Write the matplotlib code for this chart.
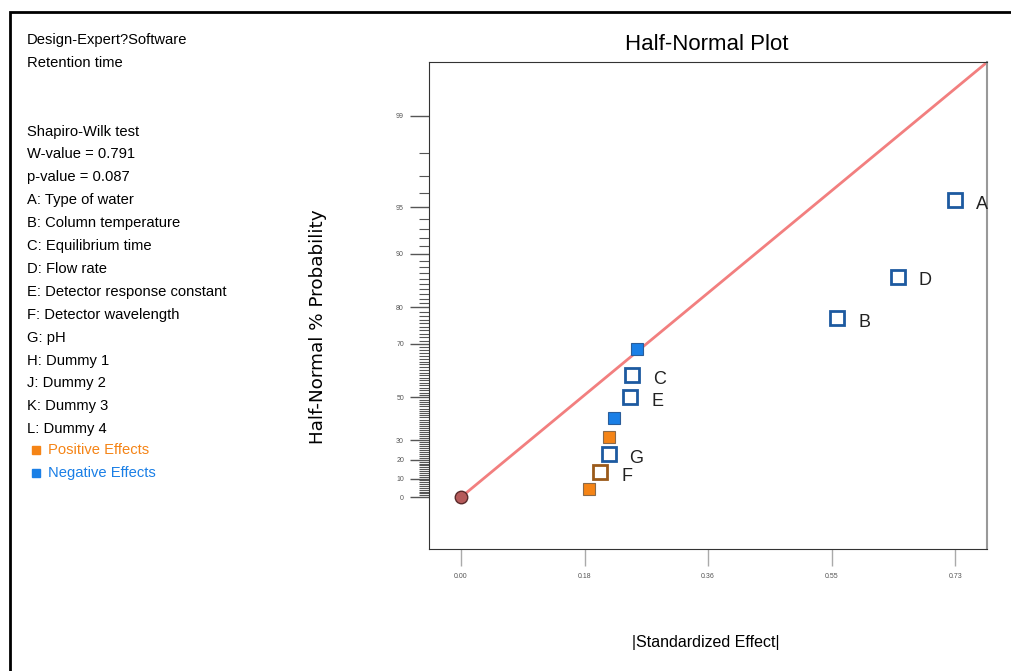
import math
import numpy as np
import matplotlib
matplotlib.use("Agg")
import matplotlib.pyplot as plt
from matplotlib.patches import Rectangle

plt.rcParams['font.family'] = ['Liberation Sans', 'DejaVu Sans']

# Effects
terms = ["A", "D", "B", "H", "C", "E", "J", "K", "G", "F", "L"]
effects = [0.730, 0.646, 0.556, 0.260, 0.253, 0.250, 0.226, 0.219, 0.219, 0.205, 0.189]
probs = [95.5, 86.4, 77.3, 68.2, 59.1, 50.0, 40.9, 31.8, 22.7, 13.6, 4.5]
signs = ["neg", "neg", "neg", "neg", "neg", "neg", "neg", "pos", "neg", "pos", "pos"]
in_model = [True, True, True, False, True, True, False, False, True, True, False]

# reference line through origin
line_x = [0.0, 0.777]
line_p = [0.0, 99.67]

y_major = [0, 10, 20, 30, 50, 70, 80, 90, 95, 99]
x_ticks = [0.0, 0.1825, 0.365, 0.5475, 0.73]
x_ticklabels = ["0.00", "0.18", "0.36", "0.55", "0.73"]

info_lines = ["Design-Expert?Software", "Retention time", "", "",
              "Shapiro-Wilk test", "W-value = 0.791", "p-value = 0.087",
              "A: Type of water", "B: Column temperature", "C: Equilibrium time",
              "D: Flow rate", "E: Detector response constant", "F: Detector wavelength",
              "G: pH", "H: Dummy 1", "J: Dummy 2", "K: Dummy 3", "L: Dummy 4"]

# half-normal probability scale
_z = np.linspace(-1.5, 4.5, 30001)
_erf = np.vectorize(math.erf)
_p = 100 * np.sign(_z) * _erf(np.abs(_z) / math.sqrt(2))

def fwd(p):
    return np.interp(p, _p, _z)

def inv(z):
    return np.interp(z, _z, _p)

fig = plt.figure(figsize=(10.11, 6.71), dpi=100)
ax = fig.add_axes([429 / 1011, 1 - 549 / 671, 558 / 1011, 487 / 671])
ax.set_yscale('function', functions=(fwd, inv))

pos_c, neg_c = '#f58416', '#1a7fe6'
edge_blue = '#1d5aa0'
ax.plot(line_x, line_p, color='#f27f7f', lw=2, zorder=2, solid_capstyle='butt')

for t, e, p, s, m in zip(terms, effects, probs, signs, in_model):
    if m:
        ec = edge_blue if s == "neg" else '#9a5a1a'
        ax.plot(e, p, 's', ms=10, mfc='white', mec=ec, mew=2, zorder=4)
        ax.annotate(t, (e, p), xytext=(19.5, -3), textcoords='offset points',
                    fontsize=13, va='center', ha='center', color='#222222')
    else:
        fc = neg_c if s == "neg" else pos_c
        ec = '#2a5d9a' if s == "neg" else '#8a6a4a'
        ax.plot(e, p, 's', ms=8.5, mfc=fc, mec=ec, mew=0.8, zorder=4)

ax.plot(0, 0, 'o', ms=9, mfc='#b55a5a', mec='#5a2a2a', mew=1, zorder=5, clip_on=False)

ax.set_xlim(-0.0473, 0.777)
ax.set_ylim(inv(-0.35), inv(2.94))
ax.set_xticks(x_ticks)
ax.set_xticklabels(x_ticklabels)
ax.set_yticks(y_major)
ax.set_yticklabels([str(v) for v in y_major])
ax.set_yticks([v for v in range(1, 99) if v not in y_major], minor=True)
ax.tick_params(axis='y', which='major', length=14, width=1, color='#555555',
               labelsize=5, labelcolor='#555555', pad=4)
ax.tick_params(axis='y', which='minor', length=7, width=0.8, color='#555555')
ax.tick_params(axis='x', which='major', length=12, width=1, color='#aaaaaa',
               labelsize=5, labelcolor='#555555', pad=5)
ax.xaxis.set_minor_locator(matplotlib.ticker.NullLocator())
for sp in ['left', 'bottom', 'top']:
    ax.spines[sp].set_color('#333333')
ax.spines['right'].set_color('#999999')
ax.spines['right'].set_linewidth(1.5)

fig.text(707 / 1011, 1 - 45 / 671, "Half-Normal Plot", fontsize=16, ha='center', va='center')
fig.text(706 / 1011, 1 - 643 / 671, "|Standardized Effect|", fontsize=11.5, ha='center', va='center')
fig.text(318 / 1011, 1 - 327 / 671, "Half-Normal % Probability", fontsize=13.2, rotation=90,
         ha='center', va='center', family='DejaVu Sans')

y0 = 40
for i, s in enumerate(info_lines):
    fig.text(27 / 1011, 1 - (y0 + i * 22.9) / 671, s, fontsize=10.6, va='center', ha='left')
for k, (lab, c) in enumerate([("Positive Effects", pos_c), ("Negative Effects", neg_c)]):
    yy = 1 - (450 + k * 23) / 671
    fig.text(48 / 1011, yy, lab, fontsize=10.6, va='center', ha='left', color=c)
    fig.patches.append(Rectangle((32 / 1011, yy - 4 / 671), 8 / 1011, 8 / 671, color=c,
                                 transform=fig.transFigure, figure=fig))

fig.patches.append(Rectangle((10 / 1011, -0.1), 1.2, 1 - 12 / 671 + 0.1, fill=False,
                             lw=2, ec='black', transform=fig.transFigure, figure=fig))

fig.savefig("out.png", dpi=100)
